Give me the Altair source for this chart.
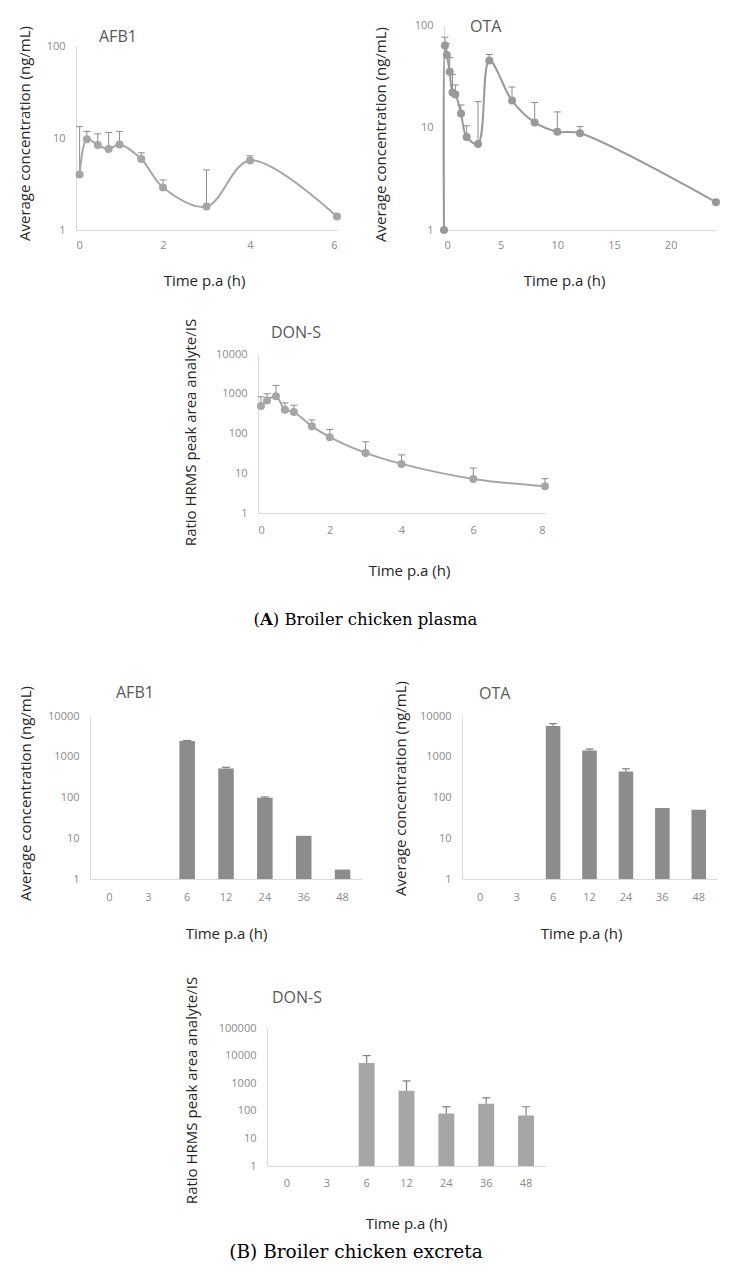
import altair as alt
import pandas as pd

# ---------------- data ----------------
afb1_p_time = [0.083, 0.25, 0.5, 0.75, 1, 1.5, 2, 3, 4, 6]
afb1_p_mean = [4.0, 9.7, 8.4, 7.6, 8.5, 5.9, 2.9, 1.8, 5.7, 1.4]
afb1_p_upper = [13.3, 11.8, 11.1, 11.5, 11.8, 6.9, 3.5, 4.5, 6.4, None]

ota_p_time = [0, 0.083, 0.25, 0.5, 0.75, 1, 1.5, 2, 3, 4, 6, 8, 10, 12, 24]
ota_p_mean = [1, 63, 51, 35, 22, 21, 13.7, 8.1, 6.9, 45, 18.3, 11.2, 9.1, 8.8, 1.87]
ota_p_upper = [None, 76, 66, 48, 33, 26, 16.6, 10.4, 17.9, 51.5, 24.8, 17.5, 14.2, 10.2, None]

don_p_time = [0.083, 0.25, 0.5, 0.75, 1, 1.5, 2, 3, 4, 6, 8]
don_p_mean = [490, 680, 870, 395, 345, 153, 81, 32.5, 17.2, 7.2, 4.7]
don_p_upper = [840, 1000, 1620, 590, 515, 220, 126, 62, 29, 13.6, 7.3]

exc_cats = ["0", "3", "6", "12", "24", "36", "48"]
afb1_e_mean = [None, None, 2450, 515, 98, 11.5, 1.7]
afb1_e_upper = [None, None, 2500, 550, 103, None, None]
ota_e_mean = [None, None, 5690, 1420, 435, 55, 50]
ota_e_upper = [None, None, 6480, 1550, 505, None, None]
don_e_mean = [None, None, 5400, 530, 80, 180, 68]
don_e_upper = [None, None, 10000, 1210, 140, 295, 140]

# ---------------- style ----------------
FONT = "Open Sans"
LABEL_C = "#8a8a8a"
TITLE_C = "#262626"
NAME_C = "#595959"
DOMAIN_C = "#d9d9d9"
Y_TITLE_CONC = "Average concentration (ng/mL)"
Y_TITLE_RATIO = "Ratio HRMS peak area analyte/IS"
X_TITLE = "Time p.a (h)"


def y_axis(values, title, tx, ty):
    return alt.Axis(values=values, format="d", title=title, titleX=tx, titleY=ty,
                    titleBaseline="middle", titleAngle=-90, labelPadding=11)


def x_axis(values, tx, ty, pad):
    return alt.Axis(values=values, title=X_TITLE, titleX=tx, titleY=ty,
                    titleBaseline="middle", labelAngle=0, labelPadding=pad)


def name_text(name, x, y):
    return alt.Chart(pd.DataFrame({"s": [name]})).mark_text(
        align="left", baseline="middle", font=FONT, fontSize=16, color=NAME_C
    ).encode(x=alt.value(x), y=alt.value(y), text="s:N")


def text_piece(text, x, y, size, weight="normal", align="left"):
    return alt.Chart(pd.DataFrame({"s": [text]})).mark_text(
        align=align, baseline="middle", font="DejaVu Serif", fontSize=size,
        fontWeight=weight, color="#000000"
    ).encode(x=alt.value(x), y=alt.value(y), text="s:N")


def ghost(h):
    # invisible rule that only reserves vertical room in the layout
    return alt.Chart(pd.DataFrame({"a": [0]})).mark_rule(opacity=0).encode(
        x=alt.value(0), y=alt.value(0), y2=alt.value(h))


def line_panel(t, m, u, name, w, h, xdom, xvals, ydom, yvals, yrange, ytitle,
               ytx, yty, xtx, xty, xpad, nx, ny, lcolor, pcolor, extra=()):
    df = pd.DataFrame({"t": t, "m": m, "u": u})
    xs = alt.Scale(domain=xdom, nice=False, zero=False)
    ys = alt.Scale(type="log", domain=ydom, range=yrange, nice=False)
    xa = x_axis(xvals, xtx, xty, xpad)
    ya = y_axis(yvals, ytitle, ytx, yty)
    X = alt.X("t:Q", scale=xs, axis=xa)
    base = alt.Chart(df)
    err = base.transform_filter("isValid(datum.u)").mark_rule(
        color="#8c8c8c", strokeWidth=1
    ).encode(x=X, y=alt.Y("m:Q", scale=ys, axis=ya), y2="u:Q")
    cap = base.transform_filter("isValid(datum.u)").mark_tick(
        orient="horizontal", size=7, thickness=1, color="#8c8c8c", opacity=1
    ).encode(x=X, y=alt.Y("u:Q", scale=ys, axis=ya))
    line = base.mark_line(interpolate="catmull-rom", color=lcolor, strokeWidth=2).encode(
        x=X, y=alt.Y("m:Q", scale=ys, axis=ya))
    pts = base.mark_circle(size=64, color=pcolor, opacity=1).encode(
        x=X, y=alt.Y("m:Q", scale=ys, axis=ya))
    layers = [err, cap, line, pts, name_text(name, nx, ny)] + list(extra)
    return alt.layer(*layers).properties(width=w, height=h)


def bar_panel(m, u, name, w, h, ydom, yvals, ytitle, ytx, yty, xtx, xty, xpad,
              nx, ny, bcolor, ecolor, extra=(), group_w=None):
    df = pd.DataFrame({"c": exc_cats, "m": m, "u": u})
    xs = alt.Scale(domain=exc_cats, paddingInner=0.6, paddingOuter=0.3, range=[0, w])
    ys = alt.Scale(type="log", domain=ydom, nice=False)
    xa = x_axis(exc_cats, xtx, xty, xpad)
    ya = y_axis(yvals, ytitle, ytx, yty)
    X = alt.X("c:N", scale=xs, axis=xa, sort=exc_cats)
    base = alt.Chart(df)
    bars = base.transform_filter("isValid(datum.m)").mark_bar(color=bcolor).encode(
        x=X, y=alt.Y("m:Q", scale=ys, axis=ya), y2=alt.datum(1))
    err = base.transform_filter("isValid(datum.u)").mark_rule(
        color=ecolor, strokeWidth=1.2
    ).encode(x=X, y=alt.Y("m:Q", scale=ys, axis=ya), y2="u:Q")
    cap = base.transform_filter("isValid(datum.u)").mark_tick(
        orient="horizontal", size=8, thickness=1.2, color=ecolor, opacity=1
    ).encode(x=X, y=alt.Y("u:Q", scale=ys, axis=ya))
    layers = [bars, err, cap, name_text(name, nx, ny)] + list(extra)
    return alt.layer(*layers).properties(width=group_w or w, height=h)


def spacer(w, h):
    return alt.Chart(pd.DataFrame({"a": [0]})).mark_rule(opacity=0).encode(
        x=alt.value(0), y=alt.value(0), y2=alt.value(h)).properties(width=w, height=h)


# ---------------- panels ----------------
afb1_p = line_panel(afb1_p_time, afb1_p_mean, afb1_p_upper, "AFB1", 261, 205,
                    [0, 6], [0, 2, 4, 6], [1, 100], [1, 10, 100], [205, 21],
                    Y_TITLE_CONC, -52, 108, 128, 50, 9, 23, 12, "#a6a6a6", "#a6a6a6")
ota_p = line_panel(ota_p_time, ota_p_mean, ota_p_upper, "OTA", 272, 205,
                   [0, 24], [0, 5, 10, 15, 20], [1, 100], [1, 10, 100], [205, 0],
                   Y_TITLE_CONC, -64, 109, 120, 50, 9, 26, 2, "#999999", "#999999")
cap_a = [text_piece("(", -4.5, 266, 16.5),
         text_piece("A", 1.9, 266, 16.5, weight="bold"),
         text_piece(") Broiler chicken plasma", 14.7, 266, 16.5)]
don_p = line_panel(don_p_time, don_p_mean, don_p_upper, "DON-S", 287, 159,
                   [0, 8], [0, 2, 4, 6, 8], [1, 10000], [1, 10, 100, 1000, 10000], [159, 0],
                   Y_TITLE_RATIO, -68, 78, 151, 57, 11, 13, -21, "#a6a6a6", "#a6a6a6",
                   extra=cap_a)

afb1_e = bar_panel(afb1_e_mean, afb1_e_upper, "AFB1", 272, 163, [1, 10000],
                   [1, 10, 100, 1000, 10000], Y_TITLE_CONC, -65, 77, 136, 54, 12, 26, -23,
                   "#8c8c8c", "#7f7f7f", group_w=372)
ota_e = bar_panel(ota_e_mean, ota_e_upper, "OTA", 255, 163, [1, 10000],
                  [1, 10, 100, 1000, 10000], Y_TITLE_CONC, -62, 72, 119, 54, 12, 17, -22,
                  "#8c8c8c", "#7f7f7f", extra=[ghost(230)])
don_e = bar_panel(don_e_mean, don_e_upper, "DON-S", 279, 138, [1, 100000],
                  [1, 10, 100, 1000, 10000, 100000], Y_TITLE_RATIO, -76, 62, 139, 57, 11, 5, -30,
                  "#a6a6a6", "#7f7f7f",
                  extra=[text_piece("(B) Broiler chicken excreta", 89, 224, 18.5, align="center")])

row1 = alt.hconcat(afb1_p, ota_p, spacing=107, bounds="flush")
row2 = alt.hconcat(spacer(182, 296), don_p, spacing=0, bounds="flush")
row3 = alt.hconcat(spacer(14, 10), afb1_e, ota_e, spacing=0, bounds="flush")
row4 = alt.hconcat(spacer(191, 10), don_e, spacing=0, bounds="flush")

chart = alt.vconcat(row1, row2, row3, row4, spacing=30).properties(
    padding={"left": 8, "top": 11, "right": 0, "bottom": 0}
).configure_view(strokeWidth=0).configure_axis(
    grid=False, ticks=False, tickSize=0, domainColor=DOMAIN_C, domainWidth=1,
    labelFont=FONT, labelFontSize=11, labelColor=LABEL_C,
    titleFont=FONT, titleFontSize=15, titleColor=TITLE_C, titleFontWeight="normal"
)

chart.save("out.html", embed_options={"renderer": "svg", "actions": False})
